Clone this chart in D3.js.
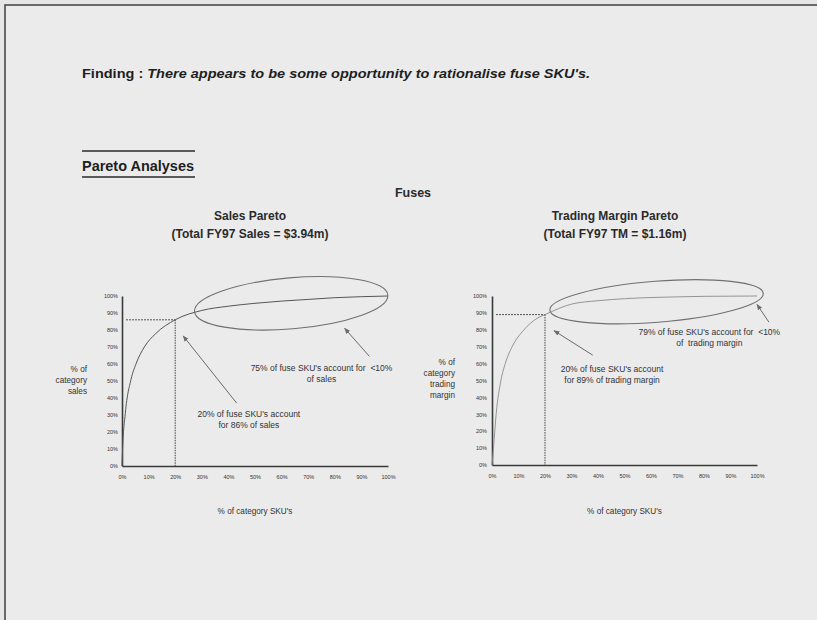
<!DOCTYPE html>
<html>
<head>
<meta charset="utf-8">
<script src="https://cdn.jsdelivr.net/npm/d3@7"></script>
<style>
  html, body { margin: 0; padding: 0; background: #e6e6e6; }
  svg { display: block; font-family: "Liberation Sans", Arial, sans-serif; }
</style>
</head>
<body>
<svg id="page" width="817" height="620"></svg>
<script>
// ---- data ---------------------------------------------------------------
// Cumulative share of category value (%) against cumulative share of SKUs (%)
const skuPctSales   = [0, 0.25, 1.25, 3.4, 5.25, 8.4, 12.75, 20, 30, 40, 50, 60, 70, 80, 90, 100];
const salesCumPct   = [0, 11, 31, 51, 60, 70, 78, 86, 91.5, 94, 95.7, 97, 98, 99, 99.6, 100];

const skuPctMargin  = [0, 0.6, 1.6, 3.4, 5, 7.6, 12, 17, 20, 30, 40, 50, 60, 70, 80, 90, 100];
const marginCumPct  = [0, 10.8, 30.6, 50.3, 60, 70, 79.9, 86.8, 89, 95.2, 97.2, 98.4, 99.1, 99.5, 99.8, 99.9, 100];

const xTicks = [0, 10, 20, 30, 40, 50, 60, 70, 80, 90, 100];
const yTicks = [0, 10, 20, 30, 40, 50, 60, 70, 80, 90, 100];
const tickFormat = d => d + "%";

// Highlighted point: 20% of SKUs
const salesCut  = { sku: 20, value: 86 };
const marginCut = { sku: 20, value: 89 };

// ---- page ---------------------------------------------------------------
const svg = d3.select("#page");

svg.append("rect").attr("x", 5).attr("y", 5).attr("width", 830).attr("height", 640)
  .attr("fill", "#ebebeb").attr("stroke", "#4a4a4a").attr("stroke-width", 1.6);

const finding = svg.append("text").attr("x", 82).attr("y", 78)
  .attr("font-size", 13.5).attr("font-weight", "bold").attr("fill", "#1e1e1e")
  .attr("textLength", 508).attr("lengthAdjust", "spacingAndGlyphs");
finding.append("tspan").text("Finding : ");
finding.append("tspan").attr("font-style", "italic")
  .text("There appears to be some opportunity to rationalise fuse SKU's.");

svg.append("text").attr("x", 82).attr("y", 171)
  .attr("font-size", 14).attr("font-weight", "bold").attr("fill", "#1e1e1e")
  .attr("textLength", 112).attr("lengthAdjust", "spacingAndGlyphs")
  .text("Pareto Analyses");
[151, 177].forEach(y => svg.append("line")
  .attr("x1", 82).attr("x2", 195).attr("y1", y).attr("y2", y)
  .attr("stroke", "#2a2a2a").attr("stroke-width", 1.5));

svg.append("text").attr("x", 413).attr("y", 197).attr("text-anchor", "middle")
  .attr("font-size", 12.5).attr("font-weight", "bold").attr("fill", "#2a2a2a")
  .text("Fuses");

// arrow head
svg.append("defs").append("marker")
  .attr("id", "arrow").attr("viewBox", "0 0 10 10").attr("refX", 9).attr("refY", 5)
  .attr("markerWidth", 6).attr("markerHeight", 6).attr("orient", "auto")
  .append("path").attr("d", "M0,1 L10,5 L0,9 Z").attr("fill", "#6a6a6a");

// ---- one pareto panel ------------------------------------------------------
function panel(cfg) {
  const g = svg.append("g");
  const x = d3.scaleLinear().domain([0, 100]).range(cfg.xRange);
  const y = d3.scaleLinear().domain([0, 100]).range(cfg.yRange);

  // titles
  g.append("text").attr("x", cfg.titleX).attr("y", 220).attr("text-anchor", "middle")
    .attr("font-size", 12).attr("font-weight", "bold").attr("fill", "#2a2a2a").text(cfg.title);
  g.append("text").attr("x", cfg.titleX).attr("y", 238).attr("text-anchor", "middle")
    .attr("font-size", 12).attr("font-weight", "bold").attr("fill", "#2a2a2a").text(cfg.subtitle);

  // axes
  const xAxis = d3.axisBottom(x).tickValues(xTicks).tickFormat(tickFormat).tickSize(0).tickPadding(9);
  const yAxis = d3.axisLeft(y).tickValues(yTicks).tickFormat(tickFormat).tickSize(0).tickPadding(cfg.yPad);
  const ga = g.append("g").attr("transform", `translate(0,${y(0)})`).call(xAxis);
  const gb = g.append("g").attr("transform", `translate(${x(0)},0)`).call(yAxis);
  [ga, gb].forEach(a => {
    a.select(".domain").attr("stroke", "#3a3a3a").attr("stroke-width", 1.6);
    a.selectAll("text").attr("font-size", 5.5).attr("fill", "#333")
      .attr("font-family", "'Liberation Sans', Arial, sans-serif");
  });

  // guide lines at the 20% cut
  g.append("line").attr("x1", x(0) + 4).attr("x2", x(cfg.cut.sku))
    .attr("y1", y(cfg.cut.value)).attr("y2", y(cfg.cut.value))
    .attr("stroke", "#555").attr("stroke-width", 1).attr("stroke-dasharray", "2,1");
  g.append("line").attr("x1", x(cfg.cut.sku)).attr("x2", x(cfg.cut.sku))
    .attr("y1", y(cfg.cut.value)).attr("y2", y(0))
    .attr("stroke", "#444").attr("stroke-width", 1).attr("stroke-dasharray", "1.5,1");

  // cumulative curve
  const line = d3.line().x((d, i) => x(cfg.xs[i])).y(d => y(d)).curve(d3.curveMonotoneX);
  g.append("path").datum(cfg.ys).attr("d", line).attr("fill", "none")
    .attr("stroke", cfg.curveColor).attr("stroke-width", cfg.curveWidth);

  // ellipse around the long tail
  const e = cfg.ellipse;
  g.append("ellipse").attr("cx", x(e.cx)).attr("cy", y(e.cy)).attr("rx", e.rx).attr("ry", e.ry)
    .attr("transform", `rotate(${e.rot},${x(e.cx)},${y(e.cy)})`)
    .attr("fill", "none").attr("stroke", "#707070").attr("stroke-width", 1.1);

  // y axis title
  const yt = g.append("text").attr("text-anchor", "end").attr("font-size", 8.2).attr("fill", "#333");
  cfg.yTitle.forEach((t, i) => yt.append("tspan").attr("x", cfg.yTitleX)
    .attr("y", cfg.yTitleY + i * 11).text(t));

  // x axis title
  g.append("text").attr("x", (cfg.xRange[0] + cfg.xRange[1]) / 2).attr("y", 514)
    .attr("text-anchor", "middle").attr("font-size", 8.2).attr("fill", "#333").text("% of category SKU's");

  // annotations with arrows
  cfg.notes.forEach(n => {
    g.append("line").attr("x1", x(n.from[0])).attr("y1", y(n.from[1]))
      .attr("x2", x(n.to[0])).attr("y2", y(n.to[1]))
      .attr("stroke", "#6a6a6a").attr("stroke-width", 1).attr("marker-end", "url(#arrow)");
    const t = g.append("text").attr("text-anchor", "middle").attr("font-size", 8.5).attr("fill", "#333")
      .style("white-space", "pre");
    n.lines.forEach((s, i) => t.append("tspan").attr("x", x(n.at[0]))
      .attr("y", y(n.at[1]) + i * 11).text(s));
  });
}

panel({
  xRange: [122, 388], yRange: [466, 296], yPad: 4,
  title: "Sales Pareto", subtitle: "(Total FY97 Sales = $3.94m)", titleX: 250,
  xs: skuPctSales, ys: salesCumPct, cut: salesCut,
  curveColor: "#555", curveWidth: 1,
  ellipse: { cx: 63.6, cy: 95.7, rx: 97, ry: 25.5, rot: -4.9 },
  yTitle: ["% of", "category", "sales"], yTitleX: 87, yTitleY: 372,
  notes: [
    { from: [43.1, 37], to: [23, 76.5], at: [47.7, 28.6], lines: ["20% of fuse SKU's account", "for 86% of sales"] },
    { from: [93, 64.5], to: [83.7, 81], at: [75, 55.6], lines: ["75% of fuse SKU's account for  <10%", "of sales"] }
  ]
});

panel({
  xRange: [492, 757], yRange: [465, 296], yPad: 5,
  title: "Trading Margin Pareto", subtitle: "(Total FY97 TM = $1.16m)", titleX: 615,
  xs: skuPctMargin, ys: marginCumPct, cut: marginCut,
  curveColor: "#8a8a8a", curveWidth: 0.9,
  ellipse: { cx: 62.1, cy: 96.6, rx: 107, ry: 20.5, rot: -4.5 },
  yTitle: ["% of", "category", "trading", "margin"], yTitleX: 455, yTitleY: 365,
  notes: [
    { from: [38, 65], to: [23.4, 79.5], at: [45.3, 55.2], lines: ["20% of fuse SKU's account", "for 89% of trading margin"] },
    { from: [104.5, 84.5], to: [100, 95], at: [82, 77], lines: ["79% of fuse SKU's account for  <10%", "of  trading margin"] }
  ]
});
</script>
</body>
</html>
